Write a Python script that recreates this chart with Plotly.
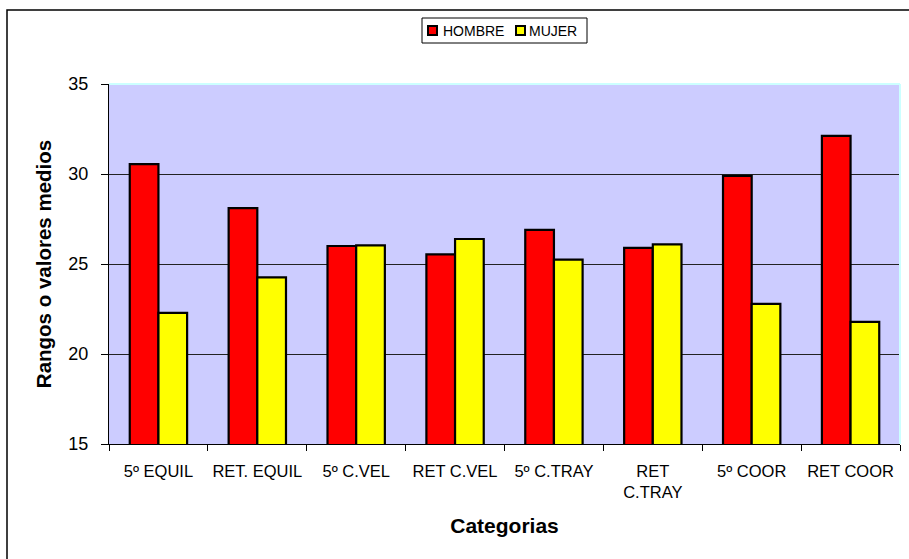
import plotly.graph_objects as go

categories = ["5º EQUIL", "RET. EQUIL", "5º C.VEL", "RET C.VEL", "5º C.TRAY",
              "RET<br>C.TRAY", "5º COOR", "RET COOR"]
hombre = [30.55, 28.1, 26.0, 25.53, 26.9, 25.9, 29.9, 32.12]
mujer = [22.28, 24.26, 26.03, 26.39, 25.24, 26.09, 22.78, 21.78]
series_names = ["HOMBRE", "MUJER"]
series_colors = ["#FF0000", "#FFFF00"]

FONT = "Liberation Sans, Arial, sans-serif"

# plotting-area geometry in pixels (used to place the frame and legend box)
W, H = 909, 559
L, R, T, B = 109, 9, 84, 115
PW, PH = W - L - R, H - T - B


def px(x):
    return (x - L) / PW


def py(y):
    return (H - B - y) / PH


fig = go.Figure()
for name, vals, col in zip(series_names, [hombre, mujer], series_colors):
    fig.add_bar(x=categories, y=vals, name=name, showlegend=False,
                marker=dict(color=col, line=dict(color="#000000", width=2.2)))

fig.update_layout(
    width=W, height=H,
    margin=dict(l=L, r=R, t=T, b=B, autoexpand=False),
    paper_bgcolor="white",
    plot_bgcolor="#CCCCFF",
    barmode="group", bargap=0.42, bargroupgap=0,
    font=dict(family=FONT, color="#000000", size=14),
    xaxis=dict(
        type="category",
        showline=True, linecolor="#000000", linewidth=1,
        ticks="outside", tickson="boundaries", ticklen=6, tickcolor="#000000",
        ticklabelstandoff=12,
        tickfont=dict(size=16.5, family=FONT),
        title=dict(text="<b>Categorias</b>", font=dict(size=21, family=FONT), standoff=18),
    ),
    yaxis=dict(
        range=[15, 35], dtick=5,
        showline=True, linecolor="#000000", linewidth=1,
        ticks="outside", ticklen=7, tickcolor="#000000",
        ticklabelstandoff=9,
        showgrid=True, gridcolor="#222222", gridwidth=1,
        tickfont=dict(size=18, family=FONT),
        title=dict(text="<b>Rangos o valores medios</b>", font=dict(size=20.5, family=FONT), standoff=11),
        zeroline=False,
    ),
)

# light edge on the top and right of the plotting area
fig.add_shape(type="line", xref="paper", yref="paper", x0=0, x1=1, y0=1, y1=1,
              line=dict(color="#CCFFFF", width=2))
fig.add_shape(type="line", xref="paper", yref="paper", x0=1, x1=1, y0=0, y1=1,
              line=dict(color="#CCFFFF", width=2))

# outer frame of the chart
fig.add_shape(type="rect", xref="paper", yref="paper",
              x0=px(7), x1=px(915), y0=py(570), y1=py(10),
              line=dict(color="#000000", width=1.5), fillcolor="rgba(0,0,0,0)",
              layer="above")

# legend box with its two entries
fig.add_shape(type="rect", xref="paper", yref="paper",
              x0=px(422), x1=px(587), y0=py(43), y1=py(18),
              line=dict(color="#000000", width=1), fillcolor="white")
swatch_x = [428, 516]
text_x = [441, 527]
for name, col, sx, tx in zip(series_names, series_colors, swatch_x, text_x):
    fig.add_shape(type="rect", xref="paper", yref="paper",
                  x0=px(sx), x1=px(sx + 9), y0=py(35), y1=py(26),
                  line=dict(color="#000000", width=2), fillcolor=col)
    fig.add_annotation(xref="paper", yref="paper", x=px(tx), y=py(31),
                       xanchor="left", yanchor="middle", showarrow=False,
                       text=name, font=dict(size=14, family=FONT, color="#000000"))

fig.write_html("out.html")
